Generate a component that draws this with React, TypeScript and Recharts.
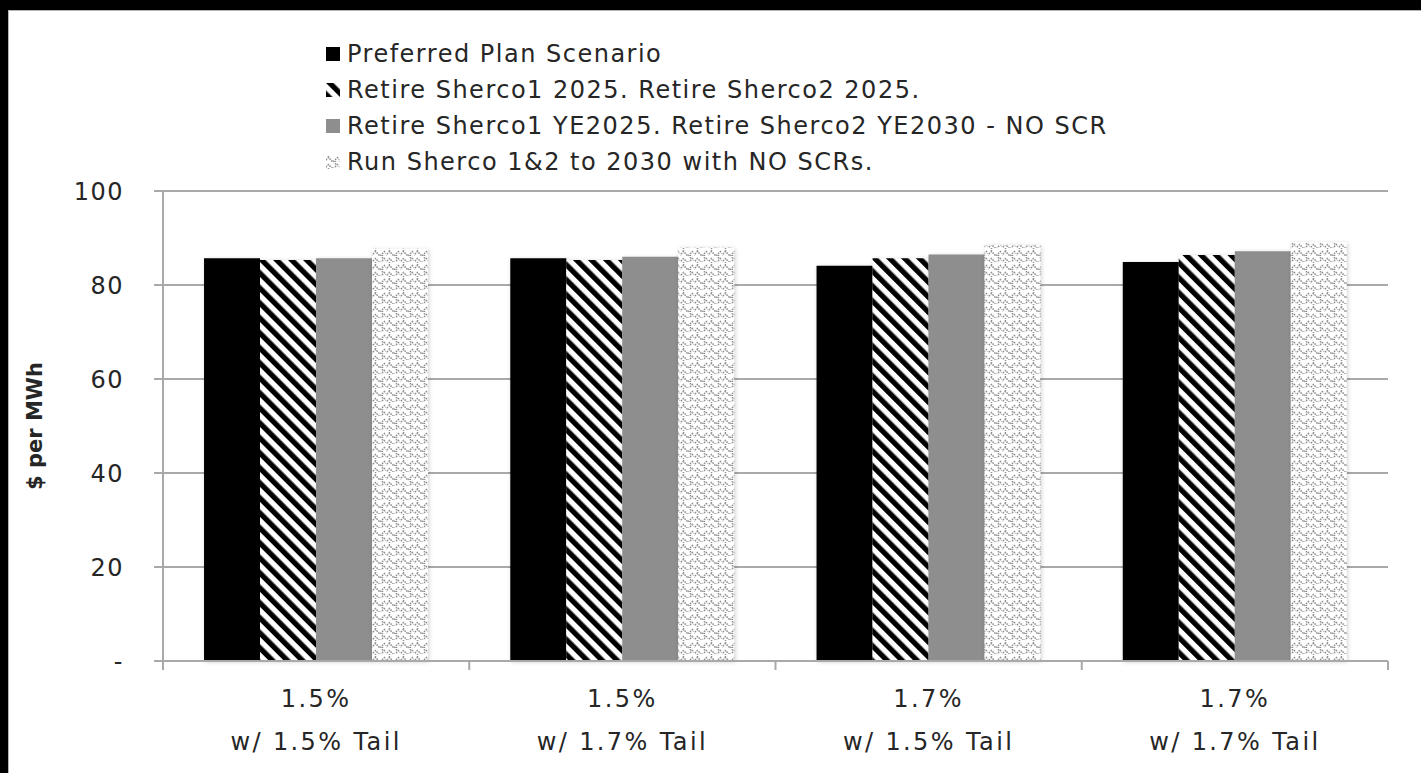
import React from 'react';
import { BarChart, Bar, XAxis, YAxis, CartesianGrid } from 'recharts';

const categories = ['1.5%|w/ 1.5% Tail', '1.5%|w/ 1.7% Tail', '1.7%|w/ 1.5% Tail', '1.7%|w/ 1.7% Tail'];
const preferred = [85.7, 85.7, 84.1, 84.9];
const retire2025 = [85.3, 85.3, 85.7, 86.4];
const retireYE = [85.7, 86.0, 86.5, 87.2];
const runTo2030 = [87.7, 88.0, 88.5, 89.1];
const yTicks = [0, 20, 40, 60, 80, 100];

const seriesNames = [
  'Preferred Plan Scenario',
  'Retire Sherco1 2025. Retire Sherco2 2025.',
  'Retire Sherco1 YE2025. Retire Sherco2 YE2030 - NO SCR',
  'Run Sherco 1&2 to 2030 with NO SCRs.',
];

const data = categories.map((name, i) => ({
  name,
  preferred: preferred[i],
  retire2025: retire2025[i],
  retireYE: retireYE[i],
  runTo2030: runTo2030[i],
}));

const FONT = '"DejaVu Sans", sans-serif';
const TEXT = '#262626';
const GRID = '#a9a9a9';

const W = 1413;
const H = 763;
const MARGIN = { top: 181, right: 33, bottom: 0, left: 80 };
const Y_WIDTH = 75;
const BAND = (W - MARGIN.left - Y_WIDTH - MARGIN.right) / categories.length;

const fills = ['#000000', 'url(#stripes)', '#8e8e8e', 'url(#weave)'];
const barStyle = { filter: 'drop-shadow(1px 1px 2px rgba(0,0,0,0.18))' };

const Patterns = () => (
  <svg width={0} height={0} style={{ position: 'absolute' }}>
    <defs>
      <pattern id="stripes" width={10.6} height={10.6} patternUnits="userSpaceOnUse" patternTransform="rotate(-45)">
        <rect width={10.6} height={10.6} fill="#fff" />
        <rect width={5.3} height={10.6} fill="#000" />
      </pattern>
      <pattern id="weave" width={14} height={14} patternUnits="userSpaceOnUse">
        <rect width={14} height={14} fill="#fff" />
        <path
          d="M-1 8 L3.5 3.5 L8 8 L12.5 3.5 L17 8 M-1 15 L3.5 10.5 L8 15 L12.5 10.5 L17 15 M3.5 3.5 L3.5 0 M10.5 10.5 L10.5 7"
          fill="none"
          stroke="#8f8f8f"
          strokeWidth={1.5}
          strokeDasharray="1.6 1"
        />
      </pattern>
    </defs>
  </svg>
);

// legend sits above the plot, drawn as plain html so it takes no room from the axes
const LegendBox = () => (
  <div
    style={{
      position: 'absolute',
      left: 316,
      top: 25,
      fontFamily: FONT,
      fontSize: 24,
      letterSpacing: 1.5,
      color: TEXT,
    }}
  >
    {seriesNames.map((label, i) => (
      <div key={label} style={{ display: 'flex', alignItems: 'center', height: 36, whiteSpace: 'nowrap' }}>
        <svg width={17} height={16} style={{ marginRight: 5 }}>
          <rect x={1} y={1} width={14} height={14} fill={fills[i]} />
        </svg>
        <span>{label}</span>
      </div>
    ))}
  </div>
);

const CategoryTick = (props: any) => {
  const { x, y, payload, index } = props;
  const [top, bottom] = String(payload.value).split('|');
  const left = x - BAND / 2;
  const textProps = { textAnchor: 'middle' as const, fontFamily: FONT, fontSize: 24, letterSpacing: 2.4, fill: TEXT };
  return (
    <g>
      <line x1={left} x2={left} y1={y - 8} y2={y + 1} stroke={GRID} strokeWidth={2} />
      {index === categories.length - 1 && (
        <line x1={x + BAND / 2} x2={x + BAND / 2} y1={y - 8} y2={y + 1} stroke={GRID} strokeWidth={2} />
      )}
      <text x={x} y={y + 38} {...textProps}>
        {top}
      </text>
      <text x={x} y={y + 81} {...textProps}>
        {bottom}
      </text>
    </g>
  );
};

const formatY = (v: number) => (v === 0 ? '-' : String(v));

export default function App() {
  return (
    <div style={{ position: 'absolute', left: 0, top: 0, width: 1421, height: 773, background: '#000', overflow: 'hidden' }}>
      <Patterns />
      <div
        style={{
          position: 'absolute',
          left: 8,
          top: 10,
          width: W,
          height: H,
          background: '#fff',
          borderTop: '1px solid #b5b5b5',
          borderLeft: '1px solid #b5b5b5',
          boxSizing: 'border-box',
        }}
      >
        <BarChart
          width={W}
          height={H}
          data={data}
          margin={MARGIN}
          barCategoryGap="13.4%"
          barGap={0}
          style={{ position: 'absolute', left: -1, top: -1 }}
        >
          <CartesianGrid vertical={false} stroke={GRID} strokeWidth={2} />
          <XAxis
            dataKey="name"
            height={112}
            axisLine={{ stroke: GRID, strokeWidth: 2 }}
            tickLine={false}
            tick={<CategoryTick />}
            interval={0}
          />
          <YAxis
            width={Y_WIDTH}
            domain={[0, 100]}
            ticks={yTicks}
            tickFormatter={formatY}
            axisLine={{ stroke: GRID, strokeWidth: 2 }}
            tickLine={{ stroke: GRID, strokeWidth: 2 }}
            tickSize={9}
            tickMargin={30}
            tick={{ fontFamily: FONT, fontSize: 24, letterSpacing: 1.5, fill: TEXT }}
            label={{
              value: '$ per MWh',
              angle: -90,
              position: 'insideLeft',
              offset: -53,
              style: { fontFamily: FONT, fontSize: 21, fontWeight: 'bold', fill: TEXT, textAnchor: 'middle' },
            }}
          />
          <Bar dataKey="preferred" name={seriesNames[0]} fill={fills[0]} isAnimationActive={false} style={barStyle} />
          <Bar dataKey="retire2025" name={seriesNames[1]} fill={fills[1]} isAnimationActive={false} style={barStyle} />
          <Bar dataKey="retireYE" name={seriesNames[2]} fill={fills[2]} isAnimationActive={false} style={barStyle} />
          <Bar dataKey="runTo2030" name={seriesNames[3]} fill={fills[3]} isAnimationActive={false} style={barStyle} />
        </BarChart>
        <LegendBox />
      </div>
    </div>
  );
}
